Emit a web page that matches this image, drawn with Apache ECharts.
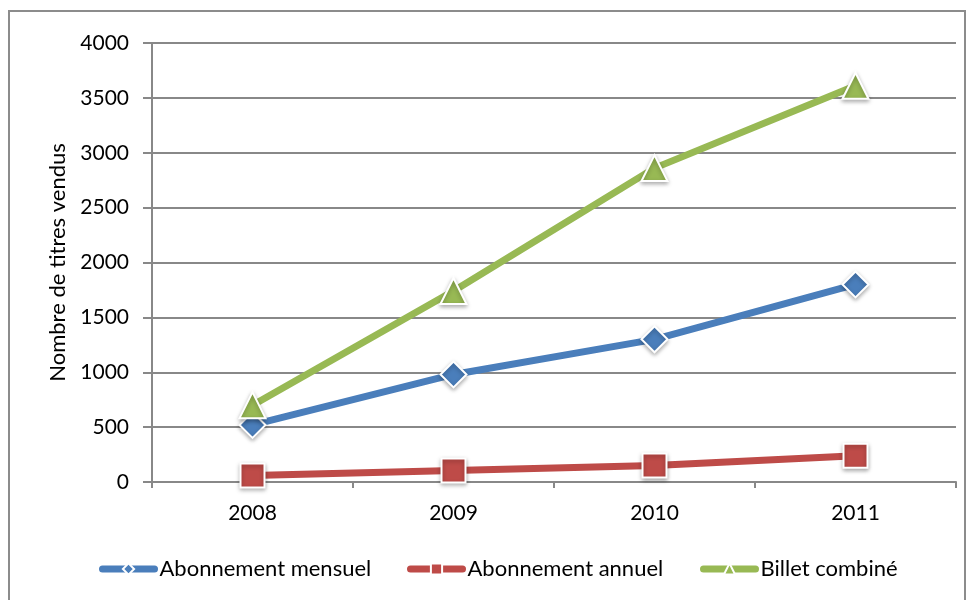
<!DOCTYPE html>
<html>
<head>
<meta charset="utf-8">
<script src="https://cdn.jsdelivr.net/npm/echarts@6/dist/echarts.min.js"></script>
<style>
  html, body { margin: 0; padding: 0; background: #fff; }
  #frame {
    position: absolute; left: 8px; top: 10px; width: 958px; height: 600px;
    border: 2px solid #8c8c8c; box-sizing: border-box;
  }
  #chart { position: absolute; left: 0; top: 0; width: 973px; height: 600px; }
</style>
</head>
<body>
<div id="frame"></div>
<div id="chart"></div>
<script>
  var years = ["2008", "2009", "2010", "2011"];
  var mensuel = [520, 980, 1300, 1800];   // Abonnement mensuel
  var annuel = [60, 105, 150, 240];       // Abonnement annuel
  var billet = [700, 1740, 2860, 3610];   // Billet combiné
  var names = ['Abonnement mensuel', 'Abonnement annuel', 'Billet combiné'];

  var font = "Lato, 'Open Sans', sans-serif";
  var gray = '#888888';

  var chart = echarts.init(document.getElementById('chart'));

  function makeSeries(name, data, color, symbol, size) {
    return {
      name: name,
      type: 'line',
      data: data,
      symbol: symbol,
      symbolSize: size,
      lineStyle: { width: 7, color: color },
      itemStyle: {
        color: color,
        borderColor: '#fff',
        borderWidth: 2,
        shadowColor: 'rgba(0,0,0,0.3)',
        shadowBlur: 4,
        shadowOffsetY: 2
      },
      emphasis: { disabled: true },
      animation: false
    };
  }

  // one legend per item so each can sit where it is in the picture
  var legendLefts = [99, 407, 700];
  var legends = names.map(function (n, i) {
    return {
      left: legendLefts[i],
      top: 558,
      padding: 0,
      itemWidth: 52,
      itemHeight: 14,
      itemGap: 0,
      lineStyle: { width: 7, cap: 'round' },
      textStyle: { fontSize: 22, color: '#000', fontFamily: font },
      data: [n]
    };
  });

  var option = {
    backgroundColor: 'transparent',
    textStyle: { fontFamily: font },
    grid: { left: 152, right: 17, top: 43, bottom: 118 },
    legend: legends,
    xAxis: {
      type: 'category',
      data: years,
      boundaryGap: true,
      axisLine: { lineStyle: { color: gray, width: 2 } },
      axisTick: { show: true, length: 6, lineStyle: { color: gray, width: 2 } },
      axisLabel: { fontSize: 21, color: '#000', margin: 21 }
    },
    yAxis: {
      type: 'value',
      min: 0,
      max: 4000,
      interval: 500,
      name: 'Nombre de titres vendus',
      nameLocation: 'middle',
      nameGap: 80,
      nameRotate: 90,
      nameTextStyle: { fontSize: 22, color: '#000' },
      axisLine: { show: true, lineStyle: { color: gray, width: 2 } },
      axisTick: { show: true, length: 9, lineStyle: { color: gray, width: 2 } },
      axisLabel: {
        fontSize: 21, color: '#000', margin: 23,
        formatter: function (v) { return String(v); }
      },
      splitLine: { lineStyle: { color: gray, width: 2 } }
    },
    series: [
      makeSeries(names[0], mensuel, '#4a7ebb', 'diamond', 26),
      makeSeries(names[1], annuel, '#be4b48', 'rect', 24),
      makeSeries(names[2], billet, '#98b954', 'triangle', 26)
    ]
  };

  chart.setOption(option);
</script>
</body>
</html>
